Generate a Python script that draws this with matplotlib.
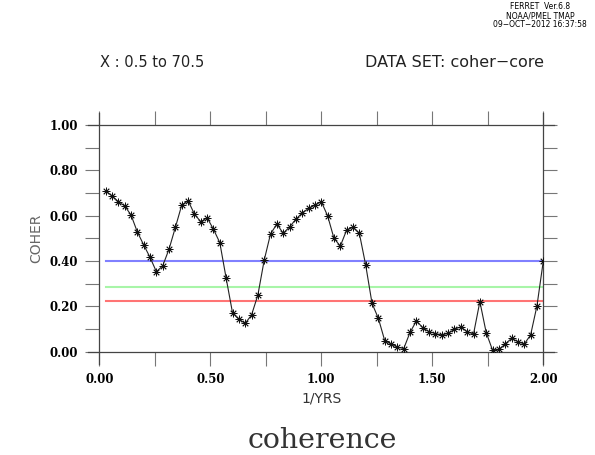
import numpy as np
import matplotlib
matplotlib.use("Agg")
import matplotlib.pyplot as plt
from matplotlib.lines import Line2D

# ---- data ----
freq = [i * 2.0 / 70 for i in range(1, 71)]
coher = [0.710, 0.687, 0.662, 0.643, 0.603, 0.528, 0.471, 0.416, 0.353, 0.379,
         0.453, 0.549, 0.647, 0.666, 0.607, 0.573, 0.591, 0.540, 0.481, 0.324,
         0.172, 0.143, 0.125, 0.162, 0.250, 0.404, 0.520, 0.563, 0.522, 0.551,
         0.584, 0.613, 0.632, 0.647, 0.662, 0.599, 0.500, 0.466, 0.537, 0.549,
         0.522, 0.382, 0.213, 0.147, 0.049, 0.034, 0.020, 0.014, 0.086, 0.136,
         0.106, 0.088, 0.080, 0.074, 0.081, 0.099, 0.110, 0.088, 0.078, 0.221,
         0.084, 0.007, 0.010, 0.034, 0.059, 0.044, 0.034, 0.074, 0.202, 0.400]
levels = [0.40, 0.285, 0.224]
level_colors = ["#8080ff", "#a8f5a8", "#ff7474"]
xticks = [0.0, 0.5, 1.0, 1.5, 2.0]
xtick_labels = ["0.00", "0.50", "1.00", "1.50", "2.00"]
yticks = [0.0, 0.2, 0.4, 0.6, 0.8, 1.0]
ytick_labels = ["0.00", "0.20", "0.40", "0.60", "0.80", "1.00"]

fig = plt.figure(figsize=(5.95, 4.55), dpi=100)
ax = fig.add_axes([0.1669, 0.2270, 0.7462, 0.4983])
ax.set_xlim(0, 2)
ax.set_ylim(0, 1)

for lv, c in zip(levels, level_colors):
    ax.plot([freq[0], freq[-1]], [lv, lv], color=c, lw=1.5, zorder=2)

ax.plot(freq, coher, color="#222222", lw=0.8, marker=(8, 2, 0), ms=5.5,
        mew=0.6, mec="#111111", zorder=3)

for s in ax.spines.values():
    s.set_visible(False)
ex, ey = 0.025, 0.053
for xs, ys in [([-ex, 1 + ex], [0, 0]), ([-ex, 1 + ex], [1, 1]),
               ([0, 0], [-ey, 1 + ey]), ([1, 1], [-ey, 1 + ey])]:
    ax.add_line(Line2D(xs, ys, transform=ax.transAxes, color="#444444",
                       lw=0.9, clip_on=False))

tickfont = dict(family="DejaVu Serif", size=8.5, weight="bold")
ax.set_xticks(xticks)
ax.set_xticklabels(xtick_labels, fontdict=tickfont)
ax.set_xticks([0.25, 0.75, 1.25, 1.75], minor=True)
ax.set_yticks(yticks)
ax.set_yticklabels(ytick_labels, fontdict=tickfont)
ax.set_yticks([0.1, 0.3, 0.5, 0.7, 0.9], minor=True)
ax.tick_params(which="both", direction="out", length=10, width=0.8,
               color="#777777", top=True, right=True, pad=5)

ax.set_xlabel("1/YRS", fontsize=10, color="#333333", family="DejaVu Sans",
              labelpad=4)
ax.set_ylabel("COHER", fontsize=10, color="#666666", family="DejaVu Sans",
              labelpad=5)

fig.text(0.168, 0.863, "X : 0.5 to 70.5", fontsize=10.5, family="DejaVu Sans",
         ha="left", va="center", color="#222222")
fig.text(0.915, 0.863, "DATA SET: coher\u2212core", fontsize=11.5,
         family="DejaVu Sans", ha="right", va="center", color="#222222")
fig.text(0.908, 0.965, "FERRET  Ver.6.8\nNOAA/PMEL TMAP\n09\u2212OCT\u22122012 16:37:58",
         fontsize=5.5, family="DejaVu Sans", ha="center", va="center",
         linespacing=1.0)
fig.text(0.541, 0.031, "coherence", fontsize=20.5, family="DejaVu Serif",
         ha="center", va="center", color="#333333")

fig.savefig("out.png", dpi=100)
